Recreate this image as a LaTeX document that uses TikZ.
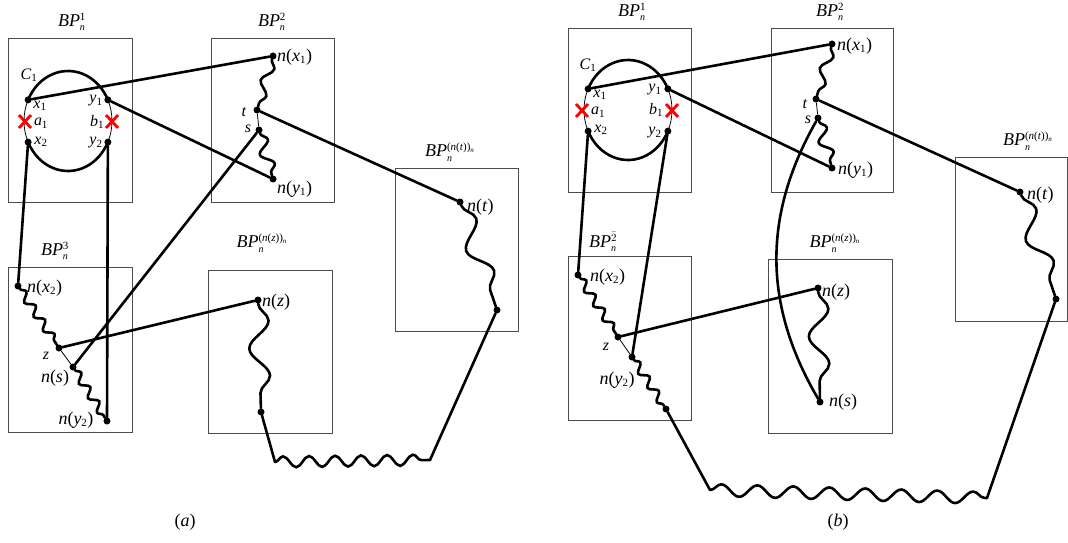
\documentclass[tikz,border=0pt]{standalone}
\usepackage{fontspec}
\setmainfont{Liberation Serif}
\usetikzlibrary{decorations.pathmorphing,calc}
\newcommand{\ixs}[2]{\textit{#1}$_{\mbox{\fontsize{11}{11}\selectfont #2}}$}
\newcommand{\nof}[1]{\textit{n}(#1)}
\newcommand{\bpn}[1]{\textit{BP}$^{\mbox{\fontsize{11}{11}\selectfont #1}}_{\mbox{\fontsize{10}{10}\selectfont\itshape n}}$}
\newcommand{\bpx}[1]{\bpn{(\textit{n}(\textit{#1}))$_{\mbox{\fontsize{7}{7}\selectfont\itshape n}}$}}
\tikzset{
  bx/.style={draw=black!70, line width=0.9pt},
  conn/.style={line width=2.6pt, line cap=round},
  thinl/.style={line width=0.8pt},
  wavy/.style 2 args={conn, decorate, decoration={snake, segment length=#1, amplitude=#2}},
  dot/.style={circle, fill, inner sep=0pt, minimum size=7pt},
  lab/.style={inner sep=0pt, font=\fontsize{18}{20}\selectfont},
  slab/.style={inner sep=0pt, font=\fontsize{16}{18}\selectfont},
  crs/.style={red, line width=2.8pt},
}
\begin{document}
\begin{tikzpicture}[x=1pt,y=-1pt]
\useasboundingbox (0,0) rectangle (1068,543);
% ================= (a) =================
\draw[bx] (8,38) rectangle (132,202);
\draw[bx] (211,38) rectangle (334,202);
\draw[bx] (8,267) rectangle (132,432);
\draw[bx] (208,270) rectangle (332,433);
\draw[bx] (395,168) rectangle (518,331);
\node[lab] (aBP1) at (72,22) {\bpn{1}};
\node[lab] (aBP2) at (272,22) {\bpn{2}};
\node[lab] (aBP3) at (55,251) {\bpn{3}};
\node[lab] (aBPz) at (262,243) {\bpx{z}};
\node[lab] (aBPt) at (450,152) {\bpx{t}};
% circle C1
\coordinate (ca) at (68,121);
\node[dot] (ax1) at ($(ca)+(155:44pt and 50pt)$) {};
\node[dot] (ay1) at ($(ca)+(25:44pt and 50pt)$) {};
\node[dot] (ax2) at ($(ca)+(205:44pt and 50pt)$) {};
\node[dot] (ay2) at ($(ca)+(335:44pt and 50pt)$) {};
\draw[conn] (ax1.center) arc[start angle=155,end angle=25,x radius=44pt,y radius=50pt];
\draw[conn] (ax2.center) arc[start angle=205,end angle=335,x radius=44pt,y radius=50pt];
\draw[thinl] (ax1.center) arc[start angle=155,end angle=205,x radius=44pt,y radius=50pt];
\draw[thinl] (ay2.center) arc[start angle=-25,end angle=25,x radius=44pt,y radius=50pt];
\node[slab] (aC1) at (29,75) {\ixs{C}{1}};
\node[slab] (alx1) at (40,106) {\ixs{x}{1}};
\node[slab] (ala1) at (41,123) {\ixs{a}{1}};
\node[slab] (alx2) at (41,142) {\ixs{x}{2}};
\node[slab] (aly1) at (96,101) {\ixs{y}{1}};
\node[slab] (alb1) at (97,122) {\ixs{b}{1}};
\node[slab] (aly2) at (96,143) {\ixs{y}{2}};
\draw[crs] (19,115) -- (31,128) (19,128) -- (31,115);
\draw[crs] (106,115) -- (118,128) (106,128) -- (118,115);
% BP2
\node[dot] (anx1) at (273,56) {};
\node[dot] (at) at (257,110) {};
\node[dot] (as) at (259,130) {};
\node[dot] (any1) at (273,179) {};
\node[lab,anchor=west] (alnx1) at (277,57) {\nof{\ixs{x}{1}}};
\node[lab,anchor=west] (alny1) at (277,189) {\nof{\ixs{y}{1}}};
\node[slab] (alt) at (244,112) {\textit{t}};
\node[slab] (als) at (248,129) {\textit{s}};
\draw[wavy={28pt}{5pt}] (anx1) -- (at);
\draw[thinl] (at) -- (as);
\draw[wavy={25pt}{6pt}] (as) -- (any1);
% BP3
\node[dot] (anx2) at (18,286) {};
\node[dot] (az) at (59,348) {};
\node[dot] (ans) at (73,367) {};
\node[dot] (any2) at (107,421) {};
\node[lab,anchor=west] (alnx2) at (27,288) {\nof{\ixs{x}{2}}};
\node[slab] (alz) at (46,356) {\textit{z}};
\node[lab] (alns) at (55,378) {\nof{\textit{s}}};
\node[lab] (alny2) at (76,420) {\nof{\ixs{y}{2}}};
\draw[wavy={17pt}{4pt}] (anx2) -- (az);
\draw[thinl] (az) -- (ans);
\draw[wavy={17pt}{4pt}] (ans) -- (any2);
% BP n(z)
\node[dot] (anz) at (258,300) {};
\node[dot] (adz) at (261,412) {};
\node[lab,anchor=west] (alnz) at (262,302) {\nof{\textit{z}}};
\draw[wavy={55pt}{10pt}] (anz) -- (adz);
% BP n(t)
\node[dot] (ant) at (460,202) {};
\node[dot] (adt) at (497,310) {};
\node[lab,anchor=west] (alnt) at (467,207) {\nof{\textit{t}}};
\draw[wavy={55pt}{10pt}] (ant) -- (adt);
% connectors (a)
\draw[conn] (ax1) -- (anx1);
\draw[conn] (ay1) -- (any1);
\draw[conn] (at) -- (ant);
\draw[conn] (as) -- (ans);
\draw[conn] (ax2) -- (anx2);
\draw[conn] (ay2) -- (any2);
\draw[conn] (az) -- (anz);
\coordinate (ab1) at (275,462);
\coordinate (ab2) at (430,460);
\draw[conn] (adz) -- (ab1);
\draw[wavy={26pt}{5.5pt}] (ab1) -- (ab2);
\draw[conn] (ab2) -- (adt);
\node[lab] (capa) at (185,522) {(\textit{a})};
% ================= (b) =================
\draw[bx] (568,28) rectangle (691,192);
\draw[bx] (771,28) rectangle (893,192);
\draw[bx] (568,256) rectangle (691,420);
\draw[bx] (768,259) rectangle (892,433);
\draw[bx] (955,157) rectangle (1067.5,321);
\node[lab] (bBP1) at (632,12) {\bpn{1}};
\node[lab] (bBP2) at (830,12) {\bpn{2}};
\node[lab] (bBP3) at (603,242) {\bpn{$\bar{2}$}};
\node[lab] (bBPz) at (835,243) {\bpx{z}};
\node[lab] (bBPt) at (1028,141) {\bpx{t}};
\coordinate (cb) at (628,110);
\node[dot] (bx1) at ($(cb)+(155:44pt and 50pt)$) {};
\node[dot] (by1) at ($(cb)+(25:44pt and 50pt)$) {};
\node[dot] (bx2) at ($(cb)+(205:44pt and 50pt)$) {};
\node[dot] (by2) at ($(cb)+(335:44pt and 50pt)$) {};
\draw[conn] (bx1.center) arc[start angle=155,end angle=25,x radius=44pt,y radius=50pt];
\draw[conn] (bx2.center) arc[start angle=205,end angle=335,x radius=44pt,y radius=50pt];
\draw[thinl] (bx1.center) arc[start angle=155,end angle=205,x radius=44pt,y radius=50pt];
\draw[thinl] (by2.center) arc[start angle=-25,end angle=25,x radius=44pt,y radius=50pt];
\node[slab] (bC1) at (588,65) {\ixs{C}{1}};
\node[slab] (blx1) at (600,95) {\ixs{x}{1}};
\node[slab] (bla1) at (598,112) {\ixs{a}{1}};
\node[slab] (blx2) at (601,130) {\ixs{x}{2}};
\node[slab] (bly1) at (655,90) {\ixs{y}{1}};
\node[slab] (blb1) at (656,110) {\ixs{b}{1}};
\node[slab] (bly2) at (655,133) {\ixs{y}{2}};
\draw[crs] (576,104) -- (588,117) (576,117) -- (588,104);
\draw[crs] (666,104) -- (678,117) (666,117) -- (678,104);
% BP2
\node[dot] (bnx1) at (832,44) {};
\node[dot] (bt) at (816,99) {};
\node[dot] (bs) at (818,118) {};
\node[dot] (bny1) at (832,168) {};
\node[lab,anchor=west] (blnx1) at (837,46) {\nof{\ixs{x}{1}}};
\node[lab,anchor=west] (blny1) at (838,170) {\nof{\ixs{y}{1}}};
\node[slab] (blt) at (805,104) {\textit{t}};
\node[slab] (bls) at (808,120) {\textit{s}};
\draw[wavy={28pt}{5pt}] (bnx1) -- (bt);
\draw[thinl] (bt) -- (bs);
\draw[wavy={25pt}{6pt}] (bs) -- (bny1);
% BP bar2
\node[dot] (bnx2) at (578,275) {};
\node[dot] (bz) at (618,337) {};
\node[dot] (bny2) at (632,357) {};
\node[dot] (bdy) at (666,409) {};
\node[lab,anchor=west] (blnx2) at (590,277) {\nof{\ixs{x}{2}}};
\node[slab] (blz) at (606,347) {\textit{z}};
\node[lab] (blny2) at (617,380) {\nof{\ixs{y}{2}}};
\draw[wavy={17pt}{4pt}] (bnx2) -- (bz);
\draw[thinl] (bz) -- (bny2);
\draw[wavy={17pt}{4pt}] (bny2) -- (bdy);
% BP n(z)
\node[dot] (bnz) at (818,288) {};
\node[dot] (bns) at (820,402) {};
\node[lab,anchor=west] (blnz) at (822,292) {\nof{\textit{z}}};
\node[lab,anchor=west] (blns) at (829,402) {\nof{\textit{s}}};
\draw[wavy={55pt}{10pt}] (bnz) -- (bns);
% BP n(t)
\node[dot] (bnt) at (1020,192) {};
\node[dot] (bdt) at (1056,299) {};
\node[lab,anchor=west] (blnt) at (1027,195) {\nof{\textit{t}}};
\draw[wavy={55pt}{10pt}] (bnt) -- (bdt);
% connectors (b)
\draw[conn] (bx1) -- (bnx1);
\draw[conn] (by1) -- (bny1);
\draw[conn] (bt) -- (bnt);
\draw[conn] (bx2) -- (bnx2);
\draw[conn] (by2) -- (bny2);
\draw[conn] (bz) -- (bnz);
\draw[conn] (bs) to[bend right=30] (bns);
\coordinate (bb1) at (710,490);
\coordinate (bb2) at (987,498);
\draw[conn] (bdy) -- (bb1);
\draw[wavy={36pt}{6pt}] (bb1) -- (bb2);
\draw[conn] (bb2) -- (bdt);
\node[lab] (capb) at (838,522) {(\textit{b})};
\end{tikzpicture}
\end{document}
